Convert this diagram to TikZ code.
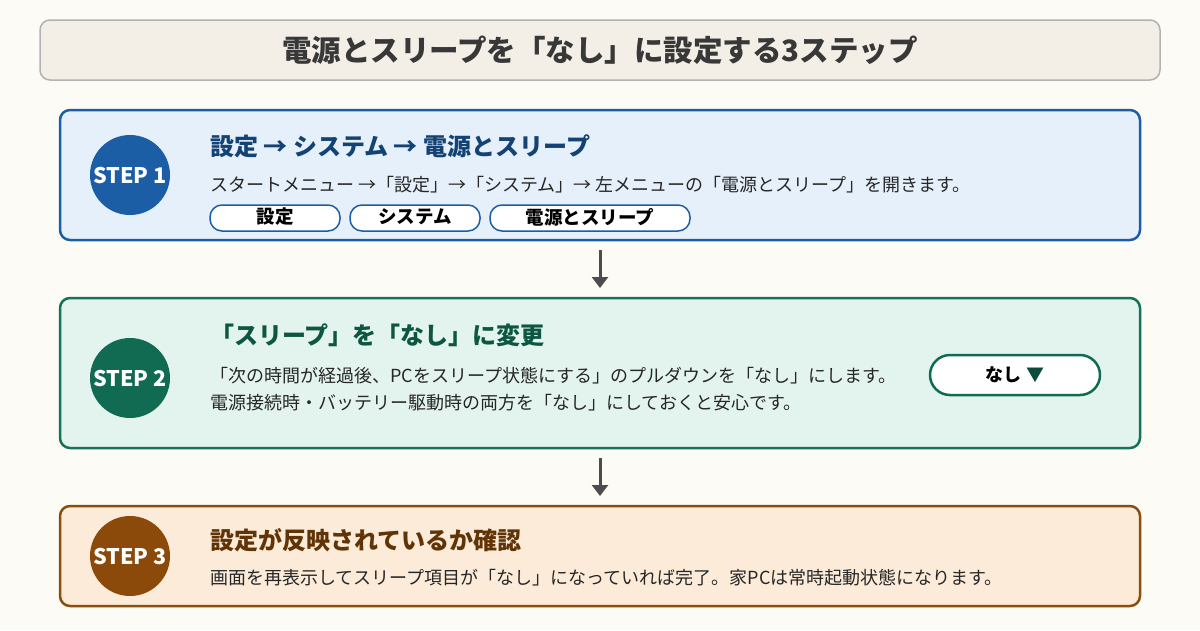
\documentclass[tikz,border=0pt]{standalone}
\usepackage{fontspec}
\usetikzlibrary{arrows.meta}
\setmainfont{Noto Sans CJK JP}
\begin{document}
\begin{tikzpicture}[x=1pt,y=-1pt,
  box/.style={rounded corners=10pt,line width=2.5pt},
  circ/.style={circle,minimum size=80pt,inner sep=0pt,text=white,font=\fontsize{21.5}{21.5}\selectfont\bfseries},
  head/.style={anchor=west,inner sep=0pt,font=\fontsize{24}{24}\selectfont\bfseries},
  body/.style={anchor=west,inner sep=0pt,font=\fontsize{18}{18}\selectfont,text=black!85},
  pilltxt/.style={font=\fontsize{18.5}{18.5}\selectfont\bfseries},
  pill/.style={rounded corners=12pt,fill=white,line width=1.5pt},
  arr/.style={line width=3pt,draw=black!70,-{Triangle[length=11pt,width=16pt]}}]
\definecolor{bg}{HTML}{FDFBF5}
\definecolor{b1}{HTML}{1B5EA6}\definecolor{f1}{HTML}{E6F0FB}
\definecolor{b2}{HTML}{17725A}\definecolor{f2}{HTML}{E3F4EE}\definecolor{c2}{HTML}{106B52}
\definecolor{b3}{HTML}{8A4F0E}\definecolor{f3}{HTML}{FBEBD8}\definecolor{c3}{HTML}{8B4A0A}
\definecolor{tb}{HTML}{F3EFE6}
\fill[bg] (0,0) rectangle (1200,630);
\useasboundingbox (0,0) rectangle (1200,630);
\draw[rounded corners=10pt,fill=tb,draw=black!30,line width=1.5pt] (40,20) rectangle (1160,80);
\node[font=\fontsize{29.5}{29.5}\selectfont\bfseries,text=black!78] (title) at (600,50) {電源とスリープを「なし」に設定する3ステップ};
% step1
\draw[box,draw=b1,fill=f1] (60,110) rectangle (1140,240);
\node[circ,fill=b1] (s1) at (130,175) {STEP 1};
\node[head,text=b1!70!black] (h1) at (210,146) {設定 → システム → 電源とスリープ};
\node[body] (t1) at (210,185) {スタートメニュー →「設定」→「システム」→ 左メニューの「電源とスリープ」を開きます。};
\draw[pill,draw=b1] (210,205) rectangle (340,231); \node[pilltxt] (p1) at (275,217) {設定};
\draw[pill,draw=b1] (350,205) rectangle (480,231); \node[pilltxt] (p2) at (415,217) {システム};
\draw[pill,draw=b1] (490,205) rectangle (690,231); \node[pilltxt] (p3) at (590,217) {電源とスリープ};
\coordinate (a1) at (600,250); \coordinate (a2) at (600,288);
\draw[arr] (a1) -- (a2);
% step2
\draw[box,draw=b2,fill=f2] (60,298) rectangle (1140,448);
\node[circ,fill=c2] (s2) at (130,378) {STEP 2};
\node[head,text=c2!80!black] (h2) at (210,335) {「スリープ」を「なし」に変更};
\node[body] (t2) at (210,376) {「次の時間が経過後、PCをスリープ状態にする」のプルダウンを「なし」にします。};
\node[body] (t2b) at (210,403) {電源接続時・バッテリー駆動時の両方を「なし」にしておくと安心です。};
\draw[pill,draw=c2,rounded corners=20pt,line width=2.5pt] (930,355) rectangle (1100,395);
\node[font=\fontsize{18}{18}\selectfont\bfseries] (dd) at (1015,375) {なし \textcolor{c2!70!black}{▼}};
\coordinate (a3) at (600,458); \coordinate (a4) at (600,496);
\draw[arr] (a3) -- (a4);
% step3
\draw[box,draw=b3,fill=f3] (60,506) rectangle (1140,606);
\node[circ,fill=c3] (s3) at (130,556) {STEP 3};
\node[head,text=c3!70!black] (h3) at (210,540) {設定が反映されているか確認};
\node[body] (t3) at (210,578) {画面を再表示してスリープ項目が「なし」になっていれば完了。家PCは常時起動状態になります。};
\end{tikzpicture}
\end{document}
